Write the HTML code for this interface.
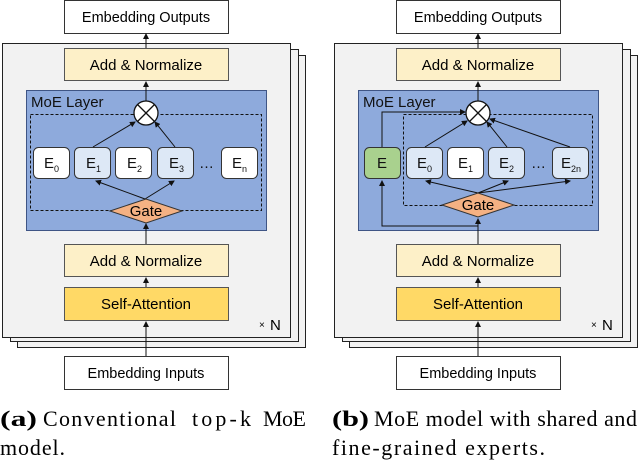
<!DOCTYPE html>
<html><head><meta charset="utf-8"><style>
html,body{margin:0;padding:0;background:#fff;width:640px;height:464px;overflow:hidden}
svg text{font-family:"Liberation Sans",sans-serif}
.cap{font-family:"Liberation Serif",serif;font-size:22px}
</style></head><body>
<svg width="640" height="464" viewBox="0 0 640 464" xmlns="http://www.w3.org/2000/svg">
<defs>
<marker id="ar" markerWidth="6" markerHeight="6" refX="5" refY="3" orient="auto" markerUnits="userSpaceOnUse"><path d="M0,0 L6,3 L0,6 z" fill="#111"/></marker>
<g id="frame">
<rect x="17.5" y="55.5" width="288" height="292" fill="#f2f2f2" stroke="#222"/>
<rect x="10.5" y="49.5" width="288" height="292" fill="#f2f2f2" stroke="#222"/>
<rect x="2.5" y="43.5" width="288" height="294" fill="#f2f2f2" stroke="#222"/>
<rect x="64.5" y="0.5" width="164" height="33" fill="#fff" stroke="#333"/>
<text x="146" y="22" font-size="14.5" text-anchor="middle">Embedding Outputs</text>
<line x1="146" y1="48" x2="146" y2="34" stroke="#111" marker-end="url(#ar)"/>
<rect x="64.5" y="48.5" width="164" height="32" fill="#fdf0c8" stroke="#555"/>
<text x="146" y="70" font-size="15" text-anchor="middle">Add &amp; Normalize</text>
<rect x="26.5" y="90.5" width="240" height="140" fill="#8eaadc" stroke="#3f5585"/>
<text x="31" y="107" font-size="15" fill="#111">MoE Layer</text>
<rect x="64.5" y="244.5" width="164" height="32" fill="#fdf0c8" stroke="#555"/>
<text x="146" y="266" font-size="15" text-anchor="middle">Add &amp; Normalize</text>
<line x1="146" y1="287" x2="146" y2="278" stroke="#111" marker-end="url(#ar)"/>
<rect x="64.5" y="287.5" width="164" height="33" fill="#ffd966" stroke="#555"/>
<text x="146" y="309" font-size="15" text-anchor="middle">Self-Attention</text>
<text x="259" y="328" font-size="10">×</text>
<text x="270" y="330" font-size="15">N</text>
<line x1="146" y1="356" x2="146" y2="322" stroke="#111" marker-end="url(#ar)"/>
<rect x="64.5" y="356.5" width="164" height="33" fill="#fff" stroke="#333"/>
<text x="146" y="378" font-size="14.5" text-anchor="middle">Embedding Inputs</text>
</g>
</defs>

<use href="#frame"/>
<line x1="146" y1="244" x2="146" y2="224" stroke="#111" marker-end="url(#ar)"/>
<line x1="146" y1="101" x2="146" y2="82" stroke="#111" marker-end="url(#ar)"/>
<rect x="30.5" y="114.5" width="231" height="96" fill="none" stroke="#111" stroke-dasharray="3,2"/>
<g stroke="#333" stroke-width="1">
<rect x="33.5" y="147.5" width="36" height="31" rx="5" fill="#fff"/>
<rect x="74.5" y="147.5" width="36" height="31" rx="5" fill="#dde8f6"/>
<rect x="115.5" y="147.5" width="36" height="31" rx="5" fill="#fff"/>
<rect x="157.5" y="147.5" width="36" height="31" rx="5" fill="#dde8f6"/>
<rect x="221.5" y="147.5" width="36" height="31" rx="5" fill="#fff"/>
</g>
<g font-size="15" fill="#111">
<text x="44" y="168">E<tspan font-size="9" dy="4">0</tspan></text>
<text x="86" y="168">E<tspan font-size="9" dy="4">1</tspan></text>
<text x="127" y="168">E<tspan font-size="9" dy="4">2</tspan></text>
<text x="169" y="168">E<tspan font-size="9" dy="4">3</tspan></text>
<text x="232" y="168">E<tspan font-size="9" dy="4">n</tspan></text>
<text x="199" y="168">…</text>
</g>
<g stroke="#111" fill="none">
<line x1="145" y1="199" x2="96" y2="181" marker-end="url(#ar)"/>
<line x1="145" y1="199" x2="174" y2="181" marker-end="url(#ar)"/>
<line x1="93" y1="147" x2="135" y2="122" marker-end="url(#ar)"/>
<line x1="175" y1="147" x2="155" y2="122" marker-end="url(#ar)"/>
</g>
<circle cx="146" cy="113" r="12" fill="#fff" stroke="#111" stroke-width="1.3"/>
<path d="M137.5,104.5 L154.5,121.5 M154.5,104.5 L137.5,121.5" stroke="#111" stroke-width="1.3"/>
<polygon points="110,211 146,199 182,211 146,223" fill="#f4b183" stroke="#333"/>
<text x="146" y="216" font-size="15" text-anchor="middle">Gate</text>

<g transform="translate(332,0)"><use href="#frame"/></g>
<line x1="478" y1="244" x2="478" y2="219" stroke="#111" marker-end="url(#ar)"/>
<line x1="478" y1="101" x2="478" y2="82" stroke="#111" marker-end="url(#ar)"/>
<rect x="403.5" y="114.5" width="189" height="91" fill="none" stroke="#111" stroke-dasharray="3,2"/>
<g stroke="#333">
<rect x="364.5" y="147.5" width="36" height="31" rx="5" fill="#a9d18e"/>
<rect x="406.5" y="147.5" width="36" height="31" rx="5" fill="#dde8f6"/>
<rect x="447.5" y="147.5" width="36" height="31" rx="5" fill="#fff"/>
<rect x="488.5" y="147.5" width="36" height="31" rx="5" fill="#dde8f6"/>
<rect x="552.5" y="147.5" width="36" height="31" rx="5" fill="#dde8f6"/>
</g>
<g font-size="15" fill="#111">
<text x="377" y="168">E</text>
<text x="417" y="168">E<tspan font-size="9" dy="4">0</tspan></text>
<text x="458" y="168">E<tspan font-size="9" dy="4">1</tspan></text>
<text x="499" y="168">E<tspan font-size="9" dy="4">2</tspan></text>
<text x="561" y="168">E<tspan font-size="9" dy="4">2n</tspan></text>
<text x="531" y="168">…</text>
</g>
<g stroke="#111" fill="none">
<polyline points="478,226 382,226 382,181" marker-end="url(#ar)"/>
<polyline points="382,147 382,112 465,112" marker-end="url(#ar)"/>
<line x1="478" y1="193" x2="426" y2="181" marker-end="url(#ar)"/>
<line x1="478" y1="193" x2="508" y2="181" marker-end="url(#ar)"/>
<line x1="478" y1="193" x2="570" y2="181" marker-end="url(#ar)"/>
<line x1="425" y1="147" x2="467" y2="121" marker-end="url(#ar)"/>
<line x1="507" y1="147" x2="487" y2="122" marker-end="url(#ar)"/>
<line x1="570" y1="147" x2="490" y2="119" marker-end="url(#ar)"/>
</g>
<circle cx="478" cy="113" r="12" fill="#fff" stroke="#111" stroke-width="1.3"/>
<path d="M469.5,104.5 L486.5,121.5 M486.5,104.5 L469.5,121.5" stroke="#111" stroke-width="1.3"/>
<polygon points="442,205 478,193 514,205 478,217" fill="#f4b183" stroke="#333"/>
<text x="478" y="210" font-size="15" text-anchor="middle">Gate</text>

<text class="cap" x="0" y="426" font-weight="bold" textLength="37" lengthAdjust="spacingAndGlyphs">(a)</text>
<text class="cap" x="43" y="426" textLength="133" lengthAdjust="spacing">Conventional</text>
<text class="cap" x="192" y="426" textLength="59" lengthAdjust="spacing">top-k</text>
<text class="cap" x="263" y="426" textLength="43" lengthAdjust="spacing">MoE</text>
<text class="cap" x="0" y="455" textLength="65" lengthAdjust="spacing">model.</text>
<text class="cap" x="332" y="426" font-weight="bold" textLength="37" lengthAdjust="spacingAndGlyphs">(b)</text>
<text class="cap" x="374" y="426" textLength="263" lengthAdjust="spacing">MoE model with shared and</text>
<text class="cap" x="332" y="455" textLength="213" lengthAdjust="spacing">fine-grained experts.</text>
</svg>
</body></html>
